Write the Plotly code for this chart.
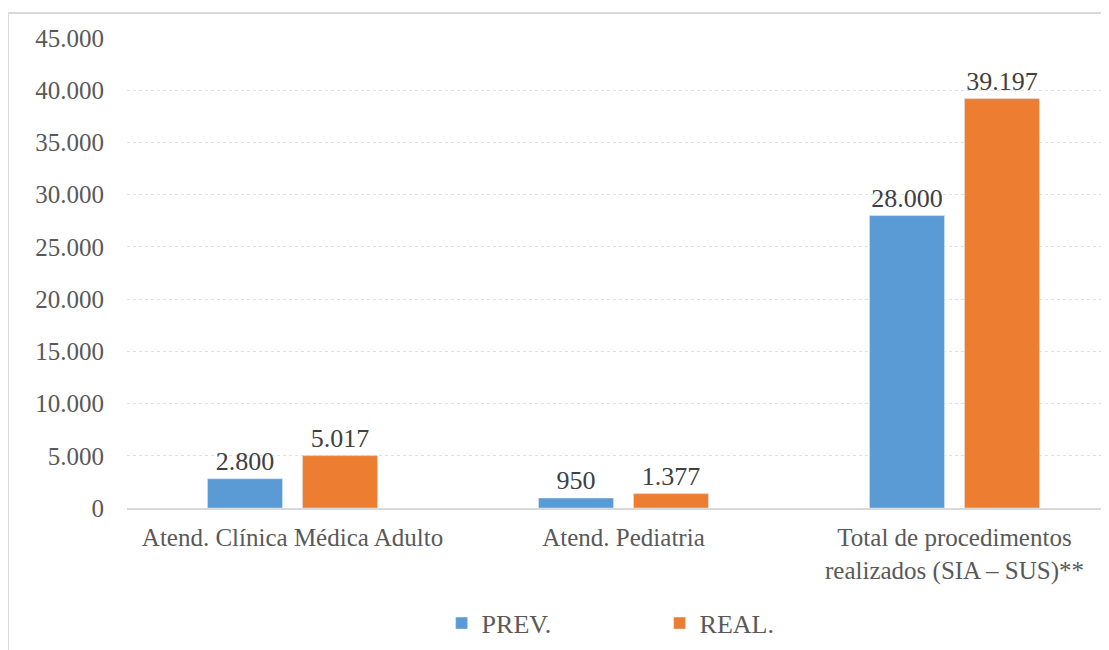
import plotly.graph_objects as go

# Chart data
categories = [
    "Atend. Clínica Médica Adulto",
    "Atend. Pediatria",
    "Total de procedimentos<br>realizados (SIA – SUS)**",
]
prev_values = [2800, 950, 28000]
real_values = [5017, 1377, 39197]
y_ticks = [0, 5000, 10000, 15000, 20000, 25000, 30000, 35000, 40000, 45000]

FONT = "Liberation Serif, Times New Roman, serif"
label_font = dict(family=FONT, size=26, color="#404040")

fig = go.Figure()

fig.add_trace(go.Bar(
    name="PREV.",
    x=categories,
    y=prev_values,
    marker_color="#5b9bd5",
    texttemplate="%{y:,d}",
    textposition="outside",
    constraintext="none",
    cliponaxis=False,
    textfont=label_font,
    outsidetextfont=label_font,
))

fig.add_trace(go.Bar(
    name="REAL.",
    x=categories,
    y=real_values,
    marker_color="#ed7d31",
    texttemplate="%{y:,d}",
    textposition="outside",
    constraintext="none",
    cliponaxis=False,
    textfont=label_font,
    outsidetextfont=label_font,
))

# outer chart border (light grey frame)
fig.add_shape(
    type="rect", xref="paper", yref="paper",
    x0=-0.1202, x1=1.02, y0=-0.5, y1=1.0532,
    line=dict(color="#d9d9d9", width=2),
    fillcolor="rgba(0,0,0,0)",
    layer="below",
)

fig.update_layout(
    width=1109,
    height=650,
    margin=dict(l=119, r=0, t=30, b=150, autoexpand=False),
    paper_bgcolor="white",
    plot_bgcolor="white",
    separators=",.",
    barmode="group",
    bargap=0.426,
    bargroupgap=0.21,
    font=dict(family=FONT, size=25, color="#595959"),
    showlegend=True,
    legend=dict(
        orientation="h",
        x=0.538, xanchor="center",
        y=-0.245, yanchor="middle",
        font=dict(family=FONT, size=26, color="#595959"),
        itemwidth=30,
        entrywidth=173,
        tracegroupgap=0,
    ),
)

fig.update_xaxes(
    range=[-0.5, 2.491],
    showgrid=False,
    showline=True,
    linecolor="#d9d9d9",
    linewidth=2,
    ticks="",
    ticklabelstandoff=6,
    automargin=False,
    tickfont=dict(family=FONT, size=25, color="#595959"),
)

fig.update_yaxes(
    range=[0, 45000],
    tickvals=y_ticks,
    tickformat=",d",
    showgrid=True,
    gridcolor="#e0e0e0",
    griddash="dot",
    gridwidth=1,
    zeroline=False,
    showline=False,
    ticks="",
    ticklabelstandoff=22,
    automargin=False,
    tickfont=dict(family=FONT, size=25, color="#595959"),
)

fig.write_html("out.html")
